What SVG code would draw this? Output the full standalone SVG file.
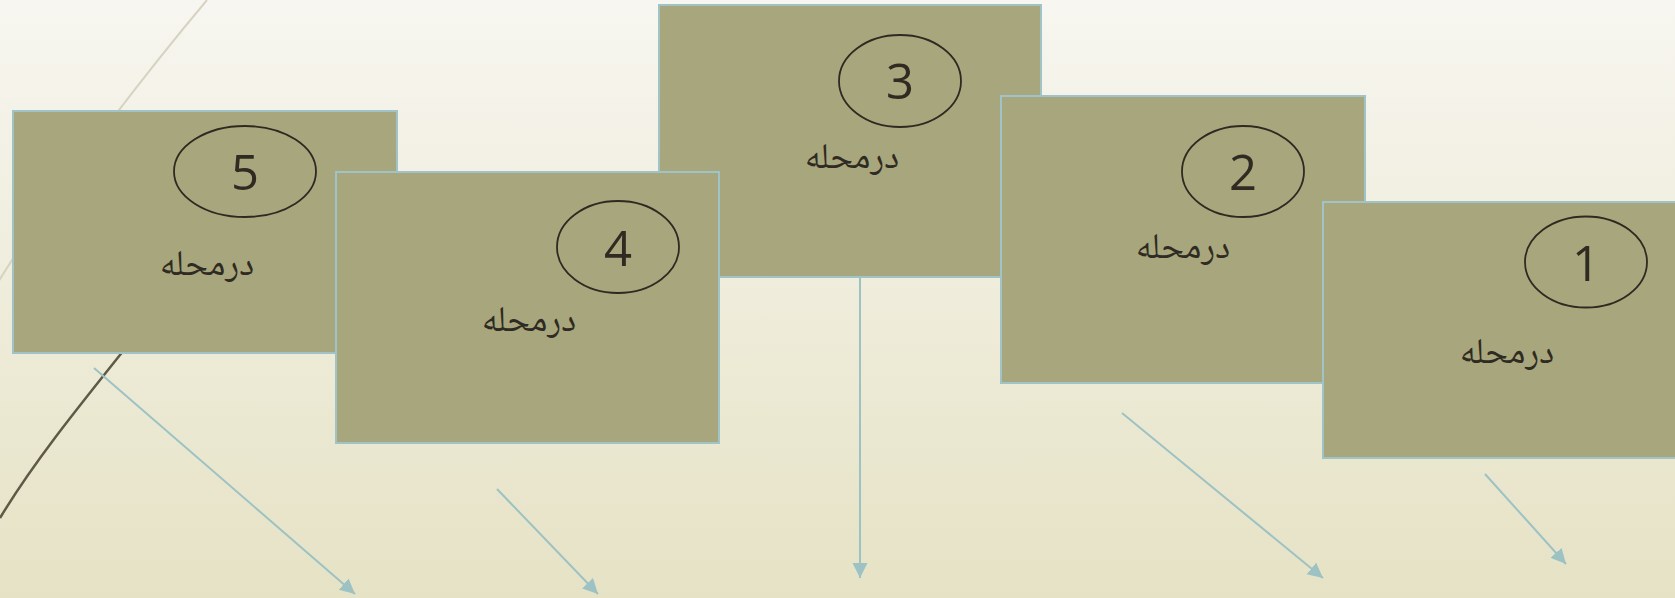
<svg xmlns="http://www.w3.org/2000/svg" width="1675" height="598" viewBox="0 0 1675 598">
  <defs>
    <linearGradient id="bg" x1="0" y1="0" x2="0" y2="1">
      <stop offset="0" stop-color="#f7f6f0"/>
      <stop offset="1" stop-color="#e6e2c5"/>
    </linearGradient>
    <marker id="arr" markerUnits="userSpaceOnUse" markerWidth="16" markerHeight="16" refX="15" refY="7.5" orient="auto">
      <path d="M0,0 L15,7.5 L0,15 Z" fill="#9cc2c4"/>
    </marker>
    <style>
      .box { fill: #a8a67c; stroke: #9fc3c6; stroke-width: 2; }
      .oval { fill: none; stroke: #2e2a22; stroke-width: 1.8; }
      .num { font-family: "Open Sans", "Liberation Sans", sans-serif; font-size: 49px; fill: #2f2b22; text-anchor: middle; }
      .lbl { font-family: "Noto Naskh Arabic", "Noto Sans Arabic", "DejaVu Sans", sans-serif; font-size: 36px; fill: #2f2b22; text-anchor: middle; }
      .conn { stroke: #9cc2c4; stroke-width: 2; fill: none; marker-end: url(#arr); }
    </style>
  </defs>
  <rect x="0" y="0" width="1675" height="598" fill="url(#bg)"/>
  <g id="decor">
    <path d="M207,0 C165,50 60,180 -8,292" fill="none" stroke="#d6d3c2" stroke-width="2"/>
    <path d="M0,518 C35,460 80,405 140,330" fill="none" stroke="#5e5a45" stroke-width="2.5"/>
  </g>
  <g id="node5">
    <rect class="box" x="13" y="111" width="384" height="242"/>
    <ellipse class="oval" cx="245" cy="171.5" rx="71" ry="45.5"/>
    <text class="num" x="245" y="190">5</text>
    <text class="lbl" x="207" y="275" direction="rtl">درمحله</text>
  </g>
  <g id="node3">
    <rect class="box" x="659" y="5" width="382" height="272"/>
    <ellipse class="oval" cx="900" cy="81" rx="61" ry="46"/>
    <text class="num" x="900" y="99">3</text>
    <text class="lbl" x="852" y="168" direction="rtl">درمحله</text>
  </g>
  <g id="node4">
    <rect class="box" x="336" y="172" width="383" height="271"/>
    <ellipse class="oval" cx="618" cy="247" rx="61" ry="46"/>
    <text class="num" x="618" y="266">4</text>
    <text class="lbl" x="529" y="331" direction="rtl">درمحله</text>
  </g>
  <g id="node2">
    <rect class="box" x="1001" y="96" width="364" height="287"/>
    <ellipse class="oval" cx="1243" cy="171.5" rx="61" ry="45.5"/>
    <text class="num" x="1243" y="190">2</text>
    <text class="lbl" x="1183" y="258" direction="rtl">درمحله</text>
  </g>
  <g id="node1">
    <rect class="box" x="1323" y="202" width="370" height="256"/>
    <ellipse class="oval" cx="1586" cy="262" rx="61" ry="45.5"/>
    <text class="num" x="1586" y="281">1</text>
    <text class="lbl" x="1507" y="363" direction="rtl">درمحله</text>
  </g>
  <g id="connectors">
    <line class="conn" x1="94" y1="368" x2="355" y2="594"/>
    <line class="conn" x1="497" y1="489" x2="598" y2="594"/>
    <line class="conn" x1="860" y1="277" x2="860" y2="578"/>
    <line class="conn" x1="1122" y1="413" x2="1323" y2="578"/>
    <line class="conn" x1="1485" y1="474" x2="1566" y2="564"/>
  </g>
</svg>
